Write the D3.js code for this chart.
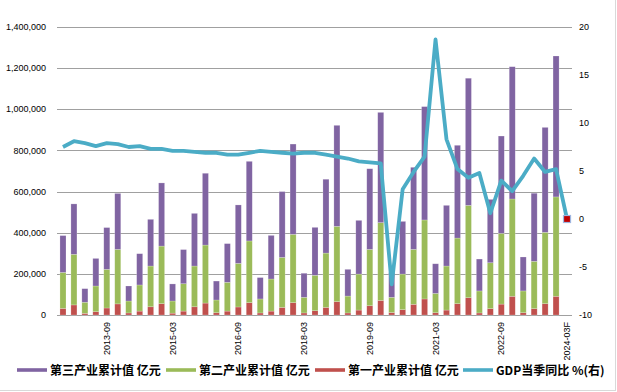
<!DOCTYPE html>
<html>
<head>
<meta charset="utf-8">
<script src="https://cdn.jsdelivr.net/npm/d3@7"></script>
<style>
  body { margin: 0; background: #fff; }
  svg { display: block; }
</style>
</head>
<body>
<svg id="svgID" width="617" height="392"></svg>
<script>
/////////    Data /////////

// Quarters (cumulative values, last one is a forecast)
let quarters = [
  "2012-09", "2012-12",
  "2013-03", "2013-06", "2013-09", "2013-12",
  "2014-03", "2014-06", "2014-09", "2014-12",
  "2015-03", "2015-06", "2015-09", "2015-12",
  "2016-03", "2016-06", "2016-09", "2016-12",
  "2017-03", "2017-06", "2017-09", "2017-12",
  "2018-03", "2018-06", "2018-09", "2018-12",
  "2019-03", "2019-06", "2019-09", "2019-12",
  "2020-03", "2020-06", "2020-09", "2020-12",
  "2021-03", "2021-06", "2021-09", "2021-12",
  "2022-03", "2022-06", "2022-09", "2022-12",
  "2023-03", "2023-06", "2023-09", "2023-12",
  "2024-03F",
];

// 第一产业累计值 亿元
let primary = [
  32000, 49000,
  8000, 16000, 34000, 54000,
  10000, 19000, 40000, 55000,
  9000, 19000, 40000, 58000,
  11000, 19000, 39000, 60000,
  10000, 19000, 37000, 60000,
  10000, 21000, 37000, 65000,
  10000, 24000, 45000, 71000,
  12000, 26000, 52000, 78000,
  11000, 24000, 55000, 84000,
  10000, 31000, 53000, 91000,
  11000, 31000, 55000, 91000,
  null,
];

// 第二产业累计值 亿元
let secondary = [
  175000, 246000,
  54000, 125000, 188000, 265000,
  58000, 127000, 198000, 280000,
  59000, 133000, 198000, 282000,
  62000, 140000, 212000, 300000,
  68000, 156000, 243000, 332000,
  76000, 172000, 264000, 366000,
  82000, 175000, 274000, 378000,
  74000, 173000, 267000, 384000,
  94000, 214000, 319000, 449000,
  107000, 223000, 344000, 473000,
  106000, 230000, 347000, 483000,
  null,
];

// 第三产业累计值 亿元
let tertiary = [
  179000, 245000,
  66000, 134000, 203000, 272000,
  73000, 152000, 227000, 307000,
  83000, 166000, 256000, 349000,
  92000, 188000, 284000, 387000,
  104000, 212000, 320000, 439000,
  117000, 233000, 359000, 491000,
  130000, 261000, 392000, 536000,
  120000, 256000, 399000, 551000,
  144000, 295000, 451000, 618000,
  155000, 308000, 473000, 643000,
  165000, 331000, 510000, 685000,
  null,
];

// GDP当季同比 % (right axis)
let gdpYoy = [
  7.5, 8.1,
  7.9, 7.6, 7.9, 7.8,
  7.5, 7.6, 7.3, 7.3,
  7.1, 7.1, 7.0, 6.9,
  6.9, 6.7, 6.7, 6.9,
  7.1, 7.0, 6.9, 6.8,
  6.9, 6.9, 6.7, 6.5,
  6.3, 6.0, 5.9, 5.8,
  -6.8, 3.1, 4.9, 6.5,
  18.7, 8.3, 5.2, 4.3,
  4.8, 0.6, 4.0, 2.9,
  4.5, 6.3, 4.9, 5.2,
  0.0,
];

let leftTicks = [0, 200000, 400000, 600000, 800000, 1000000, 1200000, 1400000];
let rightTicks = [-10, -5, 0, 5, 10, 15, 20];
let xTickLabels = ["2013-09", "2015-03", "2016-09", "2018-03", "2019-09", "2021-03", "2022-09", "2024-03F"];

let seriesNames = ["第三产业累计值 亿元", "第二产业累计值 亿元", "第一产业累计值 亿元", "GDP当季同比 %(右)"];
let seriesColors = ["#8064a2", "#9bbb59", "#c0504d", "#4bacc6"];

///////////////    D3.js    ////////////////

var svg = d3.select("svg");
var tickFont = "'Liberation Sans', Arial, sans-serif";
var cjkFont = "'Noto Sans CJK SC', sans-serif";

var x = d3.scaleBand().domain(quarters).range([57.5, 572.5]).paddingInner(0.45).paddingOuter(0.225);
var yL = d3.scaleLinear().domain([0, 1400000]).range([315, 27]);
var yR = d3.scaleLinear().domain([-10, 20]).range([315, 27]);

// chart frame (only right and bottom edges are visible)
svg.append("line").attr("x1", 615.5).attr("x2", 615.5).attr("y1", 0).attr("y2", 391)
  .attr("stroke", "#d9d9d9").attr("stroke-width", 1);
svg.append("line").attr("x1", 0).attr("x2", 616).attr("y1", 390.5).attr("y2", 390.5)
  .attr("stroke", "#d9d9d9").attr("stroke-width", 1);

// gridlines
svg.append("g")
  .selectAll("line")
  .data(leftTicks)
  .enter()
  .append("line")
  .attr("x1", 57)
  .attr("x2", 572)
  .attr("y1", (d) => Math.round(yL(d)) + 0.5)
  .attr("y2", (d) => Math.round(yL(d)) + 0.5)
  .attr("stroke", "#a0a0a0")
  .attr("stroke-width", 1);

// left axis labels
var fmt = d3.format(",");
svg.append("g")
  .selectAll("text")
  .data(leftTicks)
  .enter()
  .append("text")
  .attr("x", 46)
  .attr("y", (d) => yL(d))
  .attr("dy", "0.35em")
  .attr("text-anchor", "end")
  .attr("font-family", tickFont)
  .attr("font-size", 9)
  .attr("fill", "#000")
  .text((d) => fmt(d));

// right axis labels
svg.append("g")
  .selectAll("text")
  .data(rightTicks)
  .enter()
  .append("text")
  .attr("x", 579)
  .attr("y", (d) => yR(d))
  .attr("dy", "0.35em")
  .attr("font-family", tickFont)
  .attr("font-size", 9)
  .attr("fill", "#000")
  .text((d) => (d < 0 ? "-" + Math.abs(d) : d));

// x labels (rotated)
svg.append("g")
  .selectAll("text")
  .data(xTickLabels)
  .enter()
  .append("text")
  .attr("transform", (d) => "translate(" + (x(d) + x.bandwidth() / 2) + ",322) rotate(-90)")
  .attr("dy", "0.35em")
  .attr("text-anchor", "end")
  .attr("font-family", tickFont)
  .attr("font-size", 9)
  .attr("fill", "#000")
  .text((d) => d);

// stacked bars
var rows = quarters.map((q, i) => ({ q: q, p: primary[i], s: secondary[i], t: tertiary[i] }))
  .filter((d) => d.p !== null);
var stack = d3.stack().keys(["p", "s", "t"])(rows);
var stackColors = { p: seriesColors[2], s: seriesColors[1], t: seriesColors[0] };

svg.append("g")
  .selectAll("g")
  .data(stack)
  .enter()
  .append("g")
  .attr("fill", (d) => stackColors[d.key])
  .selectAll("rect")
  .data((d) => d)
  .enter()
  .append("rect")
  .attr("x", (d) => x(d.data.q))
  .attr("width", x.bandwidth())
  .attr("y", (d) => yL(d[1]))
  .attr("height", (d) => yL(d[0]) - yL(d[1]))
  .attr("stroke", "#fff")
  .attr("stroke-opacity", 0.35)
  .attr("stroke-width", 0.6);

// GDP line
var line = d3.line()
  .x((d, i) => x(quarters[i]) + x.bandwidth() / 2)
  .y((d) => yR(d));

svg.append("path")
  .datum(gdpYoy)
  .attr("d", line)
  .attr("fill", "none")
  .attr("stroke", seriesColors[3])
  .attr("stroke-width", 3.8)
  .attr("stroke-linejoin", "round");

// forecast marker on last point
var last = gdpYoy.length - 1;
svg.append("rect")
  .attr("x", x(quarters[last]) + x.bandwidth() / 2 - 3.5)
  .attr("y", yR(gdpYoy[last]) - 3.5)
  .attr("width", 7)
  .attr("height", 7)
  .attr("fill", "#c00000")
  .attr("stroke", "#9fb6e0")
  .attr("stroke-width", 1.2);

// legend
var legendX = [17, 166, 315, 463];
var legend = svg.append("g")
  .selectAll("g")
  .data(seriesNames)
  .enter()
  .append("g")
  .attr("transform", (d, i) => "translate(" + legendX[i] + ",370)");

legend.append("line")
  .attr("x1", 0)
  .attr("x2", 30)
  .attr("stroke", (d, i) => seriesColors[i])
  .attr("stroke-width", 3.6);

legend.append("text")
  .attr("x", 33)
  .attr("dy", "0.38em")
  .attr("font-family", cjkFont)
  .attr("font-weight", "bold")
  .attr("font-size", 12)
  .attr("fill", "#000")
  .text((d) => d);
</script>
</body>
</html>
